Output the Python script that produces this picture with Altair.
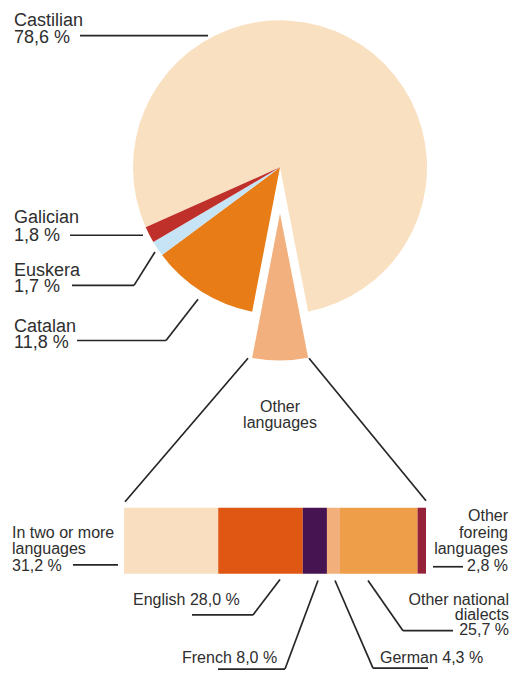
import math
import altair as alt
import pandas as pd

# ---------------- data ----------------
pie_langs = ["Castilian", "Other languages", "Catalan", "Euskera", "Galician"]
pie_values = [78.6, 6.1, 11.8, 1.7, 1.8]
pie_colors = ["#F9E0C0", "#F2B07F", "#E87D17", "#C6E4F6", "#C0302A"]

bar_cats = ["In two or more languages", "English", "French", "German",
            "Other national dialects", "Other foreing languages"]
bar_values = [31.2, 28.0, 8.0, 4.3, 25.7, 2.8]
bar_colors = ["#F9DFBF", "#E05713", "#461551", "#F2AE7B", "#EE9E48", "#96223A"]

# label texts (line by line) with anchor positions in reference pixel space
pie_label_text = ["Castilian", "78,6 %", "Galician", "1,8 %", "Euskera", "1,7 %", "Catalan", "11,8 %"]
pie_label_x = [14, 14, 14, 14, 14, 14, 14, 14]
pie_label_y = [19, 37, 220, 238, 273, 290, 330, 347]

mid_label_text = ["Other", "languages"]
mid_label_x = [280, 280]
mid_label_y = [412, 428]

bl_text = ["In two or more", "languages", "31,2 %", "English 28,0 %", "French 8,0 %", "German 4,3 %"]
bl_x = [12, 12, 12, 133, 182, 380]
bl_y = [540, 556, 573, 608, 667, 667]

br_text = ["Other", "foreing", "languages", "2,8 %", "Other national", "dialects", "25,7 %"]
br_x = [508, 508, 508, 508, 509, 509, 509]
br_y = [523, 540, 556, 573, 608, 623, 638]

# leader line segments (reference pixel space)
seg_x1 = [80, 70, 72, 134, 77, 166, 248, 309, 73, 433, 192, 253, 218, 285, 335, 373, 368, 403]
seg_y1 = [29, 232, 283, 283, 339, 339, 357, 357, 567, 569, 618, 618, 673, 673, 583, 672, 583, 634]
seg_x2 = [208, 143, 134, 155, 166, 198, 125, 426, 118, 463, 253, 280, 285, 318, 373, 428, 403, 453]
seg_y2 = [29, 232, 283, 249, 339, 297, 503, 502, 567, 569, 618, 582, 673, 583, 672, 672, 634, 634]

# ---------------- layout ----------------
W, H = 502, 664
Y0, Y1 = 1, 676


def px(x):
    return x - 8


def py(y):
    return (y - Y0) * H / (Y1 - Y0)


xs = alt.Scale(domain=[8, 8 + W], range=[0, W], nice=False, zero=False)
ys = alt.Scale(domain=[Y0, Y1], range=[0, H], nice=False, zero=False)

TEXT_COLOR = "#2E2E2E"
FONT = "Liberation Sans"

# ---------------- pie ----------------
pie_df = pd.DataFrame({"lang": pie_langs, "value": pie_values, "order": list(range(len(pie_langs)))})
a0 = math.radians(246)
pie_base = alt.Chart(pie_df).transform_window(
    cum="sum(value)", sort=[alt.SortField("order")], frame=[None, 0]
).transform_calculate(start="datum.cum - datum.value")

pie_enc = dict(
    theta=alt.Theta("start:Q", scale=alt.Scale(domain=[0, 100], range=[a0, a0 + 2 * math.pi])),
    theta2="cum:Q",
    color=alt.Color("lang:N", scale=alt.Scale(domain=pie_langs, range=pie_colors), legend=None),
)
R = 147
pie_main = pie_base.transform_filter("datum.lang != 'Other languages'").mark_arc(radius=R).encode(
    x=alt.value(px(280)), y=alt.value(py(163)), **pie_enc
)
pie_other = pie_base.transform_filter("datum.lang == 'Other languages'").mark_arc(radius=R).encode(
    x=alt.value(px(280)), y=alt.value(py(210)), **pie_enc
)

# ---------------- bar ----------------
bar_df = pd.DataFrame({"cat": bar_cats, "value": bar_values, "order": list(range(len(bar_cats)))})
bars = alt.Chart(bar_df).transform_window(
    cum="sum(value)", sort=[alt.SortField("order")], frame=[None, 0]
).transform_calculate(start="datum.cum - datum.value").mark_bar().encode(
    x=alt.X("start:Q", scale=alt.Scale(domain=[0, 100], range=[px(124), px(426)], nice=False), axis=None),
    x2="cum:Q",
    y=alt.value(py(509)),
    y2=alt.value(py(576)),
    color=alt.Color("cat:N", scale=alt.Scale(domain=bar_cats, range=bar_colors), legend=None),
)

# ---------------- leader lines ----------------
seg_df = pd.DataFrame({"x1": seg_x1, "y1": seg_y1, "x2": seg_x2, "y2": seg_y2})
rules = alt.Chart(seg_df).mark_rule(color="#262626", strokeWidth=1.7).encode(
    x=alt.X("x1:Q", scale=xs, axis=None),
    y=alt.Y("y1:Q", scale=ys, axis=None),
    x2="x2:Q",
    y2="y2:Q",
)


# ---------------- labels ----------------
def text_layer(texts, xs_, ys_, size, align):
    df = pd.DataFrame({"t": texts, "x": xs_, "y": ys_})
    return alt.Chart(df).mark_text(
        align=align, baseline="alphabetic", fontSize=size, font=FONT, color=TEXT_COLOR
    ).encode(
        x=alt.X("x:Q", scale=xs, axis=None),
        y=alt.Y("y:Q", scale=ys, axis=None),
        text="t:N",
    )


t_pie = text_layer(pie_label_text, pie_label_x, pie_label_y, 18, "left")
t_mid = text_layer(mid_label_text, mid_label_x, mid_label_y, 16, "center")
t_bl = text_layer(bl_text, bl_x, bl_y, 16, "left")
t_br = text_layer(br_text, br_x, br_y, 16, "right")

chart = alt.layer(
    pie_main, pie_other, bars, rules, t_pie, t_mid, t_bl, t_br
).resolve_scale(
    x="independent", y="independent", color="independent"
).properties(
    width=W, height=H, padding=0, autosize=alt.AutoSizeParams(type="none"),
    background="white",
).configure_view(stroke=None)

chart.save("out.html", embed_options={"renderer": "svg", "actions": False})
